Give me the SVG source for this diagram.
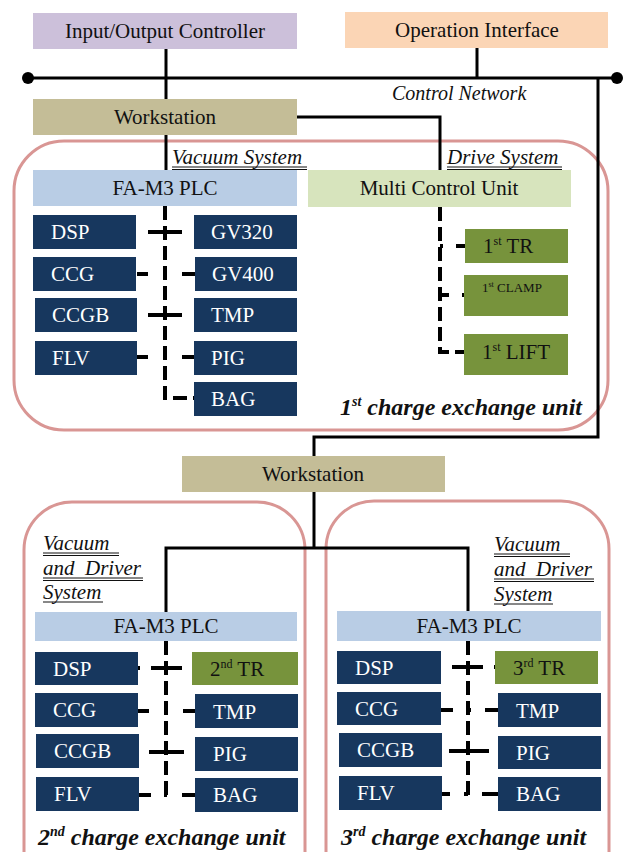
<svg xmlns="http://www.w3.org/2000/svg" width="626" height="852" viewBox="0 0 626 852">
  <style>
    text { font-family: "Liberation Serif", "Times New Roman", serif; }
    .lbl { font-size: 21px; fill: #111; text-anchor: middle; }
    .wl { font-size: 21px; fill: #ffffff; }
    .bl { font-size: 21px; fill: #111; }
    .ital { font-style: italic; font-size: 21px; fill: #111; }
    .unit { font-style: italic; font-weight: bold; font-size: 24px; fill: #111; }
    .io { fill: #ccc0da; }
    .op { fill: #fbd5b5; }
    .ws { fill: #c4bd97; }
    .plc { fill: #b9cde5; }
    .mcu { fill: #d7e4bd; }
    .dev { fill: #17375e; }
    .drv { fill: #77933c; }
    .frame { fill: none; stroke: #d99694; stroke-width: 3; }
    .solid { fill: none; stroke: #000; stroke-width: 3; }
    .dash { fill: none; stroke: #000; stroke-width: 4; stroke-dasharray: 14 6; }
    .cross { fill: none; stroke: #000; stroke-width: 4; stroke-dasharray: 0 11 34 30; }
    .dotted { fill: none; stroke: #000; stroke-width: 4; stroke-dasharray: 11 15 4 15 14; }
    .ul { stroke: #111; stroke-width: 1; }
  </style>

  <!-- unit frames -->
  <g id="unit1-frame"><rect class="frame" x="14" y="141" width="594" height="289" rx="50"/></g>
  <g id="unit2-frame"><rect class="frame" x="24" y="502" width="281" height="400" rx="48"/></g>
  <g id="unit3-frame"><rect class="frame" x="326" y="501" width="283" height="400" rx="48"/></g>

  <!-- connectors -->
  <g id="connectors">
    <!-- control network bus -->
    <line class="solid" x1="28" y1="78" x2="617" y2="78"/>
    <circle cx="28" cy="78" r="6" fill="#000"/>
    <circle cx="617" cy="78" r="6" fill="#000"/>
    <line class="solid" x1="166" y1="49" x2="166" y2="100"/>
    <line class="solid" x1="477" y1="48" x2="477" y2="78"/>
    <!-- workstation 1 -->
    <line class="solid" x1="166" y1="135" x2="166" y2="170"/>
    <polyline class="solid" points="297,117 440,117 440,170"/>
    <!-- network drop to workstation 2 -->
    <polyline class="solid" points="598,78 598,437 314,437 314,456"/>
    <polyline class="solid" points="314,492 314,548"/>
    <polyline class="solid" points="166,612 166,548 468,548 468,611"/>

    <!-- unit 1 vacuum system -->
    <path class="dash" d="M165 206 V398 H194"/>
    <line class="cross" x1="137" y1="232" x2="194" y2="232"/>
    <line class="dotted" x1="137" y1="274" x2="196" y2="274"/>
    <line class="cross" x1="137" y1="315" x2="194" y2="315"/>
    <line class="dotted" x1="137" y1="357" x2="196" y2="357"/>

    <!-- unit 1 drive system -->
    <path class="dash" d="M440 207 V352 H465"/>
    <line class="dash" x1="440" y1="246" x2="465" y2="246" style="stroke-dasharray:3 13 9 10"/>
    <line class="dash" x1="440" y1="295" x2="465" y2="295" style="stroke-dasharray:9 13 4 10"/>

    <!-- unit 2 -->
    <path class="dash" d="M166 641 V798"/>
    <line class="cross" x1="138" y1="668" x2="192" y2="668" style="stroke-dasharray:2 11 31 10 2 20"/>
    <line class="dotted" x1="138" y1="711" x2="198" y2="711"/>
    <line class="cross" x1="139" y1="752" x2="195" y2="752" style="stroke-dasharray:0 10 35 30"/>
    <line class="dotted" x1="139" y1="795" x2="198" y2="795" style="stroke-dasharray:12 13 3 15 16"/>

    <!-- unit 3 -->
    <path class="dash" d="M468 641 V796"/>
    <line class="cross" x1="441" y1="667" x2="495" y2="667" style="stroke-dasharray:0 11 31 11 3 20"/>
    <line class="dotted" x1="441" y1="710" x2="498" y2="710" style="stroke-dasharray:12 14 4 14 14"/>
    <line class="cross" x1="442" y1="751" x2="498" y2="751" style="stroke-dasharray:0 7 40 30"/>
    <line class="dotted" x1="438" y1="794" x2="498" y2="794" style="stroke-dasharray:12 14 4 14 16"/>
  </g>

  <!-- top level -->
  <g id="io-controller"><rect class="io" x="33" y="13" width="264" height="36"/><text class="lbl" x="165" y="38">Input/Output Controller</text></g>
  <g id="operation-interface"><rect class="op" x="345" y="12" width="263" height="36"/><text class="lbl" x="477" y="37">Operation Interface</text></g>
  <g id="control-network-label"><text class="ital" x="392" y="100" style="font-size:20px">Control Network</text></g>
  <g id="workstation-1"><rect class="ws" x="33" y="99" width="264" height="36"/><text class="lbl" x="165" y="124">Workstation</text></g>

  <!-- unit 1 -->
  <g id="vacuum-system-label">
    <text class="ital" x="172" y="164">Vacuum System</text>
    <line class="ul" x1="172" y1="167" x2="307" y2="167"/>
    <line class="ul" x1="172" y1="169.5" x2="307" y2="169.5"/>
  </g>
  <g id="drive-system-label">
    <text class="ital" x="447" y="164">Drive System</text>
    <line class="ul" x1="447" y1="167" x2="562" y2="167"/>
    <line class="ul" x1="447" y1="169.5" x2="562" y2="169.5"/>
  </g>
  <g id="plc-1"><rect class="plc" x="33" y="170" width="264" height="36"/><text class="lbl" x="165" y="195">FA-M3 PLC</text></g>
  <g id="mcu-1"><rect class="mcu" x="308" y="170" width="263" height="37"/><text class="lbl" x="439" y="195">Multi Control Unit</text></g>

  <g id="u1-dsp"><rect class="dev" x="33" y="215" width="103" height="34"/><text class="wl" x="51" y="239">DSP</text></g>
  <g id="u1-gv320"><rect class="dev" x="194" y="215" width="103" height="34"/><text class="wl" x="211" y="239">GV320</text></g>
  <g id="u1-ccg"><rect class="dev" x="33" y="257" width="103" height="34"/><text class="wl" x="51" y="281">CCG</text></g>
  <g id="u1-gv400"><rect class="dev" x="195" y="257" width="102" height="34"/><text class="wl" x="212" y="281">GV400</text></g>
  <g id="u1-ccgb"><rect class="dev" x="35" y="298" width="102" height="34"/><text class="wl" x="52" y="322">CCGB</text></g>
  <g id="u1-tmp"><rect class="dev" x="194" y="298" width="103" height="34"/><text class="wl" x="211" y="322">TMP</text></g>
  <g id="u1-flv"><rect class="dev" x="35" y="341" width="102" height="34"/><text class="wl" x="52" y="365">FLV</text></g>
  <g id="u1-pig"><rect class="dev" x="194" y="341" width="103" height="34"/><text class="wl" x="211" y="365">PIG</text></g>
  <g id="u1-bag"><rect class="dev" x="194" y="382" width="103" height="34"/><text class="wl" x="211" y="406">BAG</text></g>

  <g id="u1-tr"><rect class="drv" x="465" y="229" width="103" height="34"/><text class="bl" x="483" y="253">1<tspan font-size="12" dy="-8">st</tspan><tspan dy="8"> TR</tspan></text></g>
  <g id="u1-clamp"><rect class="drv" x="464" y="275" width="104" height="41"/><text class="bl" x="482" y="292" style="font-size:13px">1<tspan font-size="8" dy="-5">st</tspan><tspan dy="5"> CLAMP</tspan></text></g>
  <g id="u1-lift"><rect class="drv" x="464" y="334" width="104" height="41"/><text class="bl" x="482" y="359">1<tspan font-size="12" dy="-8">st</tspan><tspan dy="8"> LIFT</tspan></text></g>

  <g id="unit1-label"><text class="unit" x="340" y="415">1<tspan font-size="14" dy="-9">st</tspan><tspan dy="9"> charge exchange unit</tspan></text></g>

  <!-- workstation 2 -->
  <g id="workstation-2"><rect class="ws" x="182" y="456" width="263" height="36"/><text class="lbl" x="313" y="481">Workstation</text></g>

  <!-- unit 2 -->
  <g id="u2-system-label">
    <text class="ital" x="43" y="550">Vacuum </text>
    <line class="ul" x1="43" y1="553" x2="119" y2="553"/><line class="ul" x1="43" y1="555.5" x2="119" y2="555.5"/>
    <text class="ital" x="43" y="575" xml:space="preserve">and  Driver</text>
    <line class="ul" x1="43" y1="578" x2="143" y2="578"/><line class="ul" x1="43" y1="580.5" x2="143" y2="580.5"/>
    <text class="ital" x="43" y="599">System</text>
    <line class="ul" x1="43" y1="602" x2="103" y2="602"/>
  </g>
  <g id="plc-2"><rect class="plc" x="35" y="612" width="262" height="29"/><text class="lbl" x="166" y="633">FA-M3 PLC</text></g>
  <g id="u2-dsp"><rect class="dev" x="35" y="652" width="103" height="33"/><text class="wl" x="53" y="676">DSP</text></g>
  <g id="u2-tr"><rect class="drv" x="192" y="652" width="106" height="33"/><text class="bl" x="210" y="676">2<tspan font-size="12" dy="-8">nd</tspan><tspan dy="8"> TR</tspan></text></g>
  <g id="u2-ccg"><rect class="dev" x="35" y="693" width="103" height="34"/><text class="wl" x="53" y="717">CCG</text></g>
  <g id="u2-tmp"><rect class="dev" x="195" y="694" width="103" height="34"/><text class="wl" x="213" y="719">TMP</text></g>
  <g id="u2-ccgb"><rect class="dev" x="36" y="734" width="103" height="34"/><text class="wl" x="54" y="758">CCGB</text></g>
  <g id="u2-pig"><rect class="dev" x="195" y="737" width="103" height="34"/><text class="wl" x="213" y="761">PIG</text></g>
  <g id="u2-flv"><rect class="dev" x="36" y="777" width="103" height="34"/><text class="wl" x="54" y="801">FLV</text></g>
  <g id="u2-bag"><rect class="dev" x="195" y="778" width="103" height="34"/><text class="wl" x="213" y="802">BAG</text></g>
  <g id="unit2-label"><text class="unit" x="38" y="845">2<tspan font-size="14" dy="-9">nd</tspan><tspan dy="9"> charge exchange unit</tspan></text></g>

  <!-- unit 3 -->
  <g id="u3-system-label">
    <text class="ital" x="494" y="551">Vacuum </text>
    <line class="ul" x1="494" y1="554" x2="570" y2="554"/><line class="ul" x1="494" y1="556.5" x2="570" y2="556.5"/>
    <text class="ital" x="494" y="576" xml:space="preserve">and  Driver</text>
    <line class="ul" x1="494" y1="579" x2="594" y2="579"/><line class="ul" x1="494" y1="581.5" x2="594" y2="581.5"/>
    <text class="ital" x="494" y="601">System</text>
    <line class="ul" x1="494" y1="604" x2="553" y2="604"/>
  </g>
  <g id="plc-3"><rect class="plc" x="337" y="611" width="264" height="30"/><text class="lbl" x="469" y="633">FA-M3 PLC</text></g>
  <g id="u3-dsp"><rect class="dev" x="337" y="651" width="104" height="33"/><text class="wl" x="355" y="675">DSP</text></g>
  <g id="u3-tr"><rect class="drv" x="495" y="651" width="103" height="33"/><text class="bl" x="513" y="675">3<tspan font-size="12" dy="-8">rd</tspan><tspan dy="8"> TR</tspan></text></g>
  <g id="u3-ccg"><rect class="dev" x="337" y="692" width="104" height="33"/><text class="wl" x="355" y="716">CCG</text></g>
  <g id="u3-tmp"><rect class="dev" x="498" y="693" width="103" height="34"/><text class="wl" x="516" y="718">TMP</text></g>
  <g id="u3-ccgb"><rect class="dev" x="339" y="733" width="103" height="34"/><text class="wl" x="357" y="757">CCGB</text></g>
  <g id="u3-pig"><rect class="dev" x="498" y="736" width="103" height="33"/><text class="wl" x="516" y="760">PIG</text></g>
  <g id="u3-flv"><rect class="dev" x="339" y="776" width="103" height="34"/><text class="wl" x="357" y="800">FLV</text></g>
  <g id="u3-bag"><rect class="dev" x="498" y="777" width="103" height="34"/><text class="wl" x="516" y="801">BAG</text></g>
  <g id="unit3-label"><text class="unit" x="341" y="845">3<tspan font-size="14" dy="-9">rd</tspan><tspan dy="9"> charge exchange unit</tspan></text></g>
</svg>
